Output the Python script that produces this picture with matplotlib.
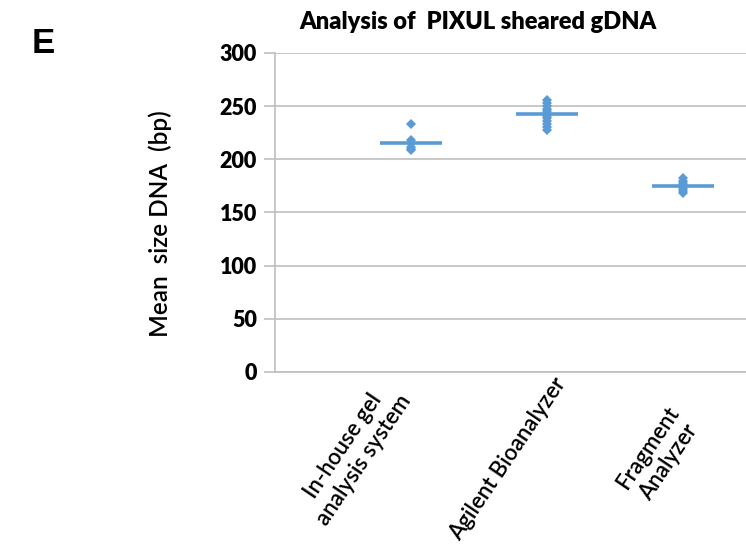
import matplotlib
matplotlib.use("Agg")
import matplotlib.pyplot as plt
import matplotlib.transforms as mtransforms

categories = ["In-house gel\nanalysis system", "Agilent Bioanalyzer", "Fragment\nAnalyzer"]
inhouse_values = [233, 218, 215, 212, 210, 209]
agilent_values = [256, 253, 250, 247, 245, 243, 241, 239, 236, 233, 230, 228]
fragment_values = [182, 180, 178, 176, 175, 174, 172, 170, 168]
group_means = [215, 243, 175]
y_ticks = [0, 50, 100, 150, 200, 250, 300]

title = "Analysis of  PIXUL sheared gDNA"
y_label = "Mean  size DNA  (bp)"
panel_letter = "E"

blue = "#5B9BD5"
grid_gray = "#BFBFBF"

fig = plt.figure(figsize=(7.46, 5.45), dpi=100)
ax = fig.add_axes([275/746, 173/545, 544/746, 319/545])

groups = [inhouse_values, agilent_values, fragment_values]
for i, vals in enumerate(groups):
    x = [i + 1] * len(vals)
    ax.plot(x, vals, linestyle="none", marker="D", markersize=5.4,
            color=blue, markeredgewidth=0, zorder=3)
    ax.hlines(group_means[i], i + 1 - 0.23, i + 1 + 0.23, color=blue,
              linewidth=2.6, zorder=4)

ax.set_xlim(0, 4)
ax.set_ylim(0, 300)
ax.set_yticks(y_ticks)
ax.set_yticklabels([str(v) for v in y_ticks], fontfamily="Lato",
                   fontweight="heavy", fontsize=15.5)
ax.grid(axis="y", color=grid_gray, linewidth=1.2)
ax.set_axisbelow(True)
for s in ["top", "right"]:
    ax.spines[s].set_visible(False)
ax.spines["left"].set_color(grid_gray)
ax.spines["bottom"].set_color(grid_gray)
ax.spines["left"].set_linewidth(1.2)
ax.spines["bottom"].set_linewidth(1.2)
ax.tick_params(axis="y", length=8, width=1.2, color=grid_gray, pad=5)
ax.tick_params(axis="x", length=0, pad=2)

ax.set_xticks([1, 2, 3])
labels = ax.set_xticklabels(categories, fontfamily="Lato", fontweight="semibold",
                            fontsize=16, rotation=56, ha="right", va="center",
                            rotation_mode="anchor", multialignment="center")
label_shifts = [(-15, -15), (14, -5), (2, -41)]
for lab, (dx, dy) in zip(labels, label_shifts):
    off = mtransforms.ScaledTranslation(dx/100, dy/100, fig.dpi_scale_trans)
    lab.set_transform(lab.get_transform() + off)

fig.text(160/746, 1 - 224/545, y_label, rotation=90, ha="center", va="center",
         fontfamily="Lato", fontweight="semibold", fontsize=17.5)
fig.text(478/746, 1 - 22/545, title, ha="center", va="center",
         fontfamily="Lato", fontweight="heavy", fontsize=17)
fig.text(43/746, 1 - 43/545, panel_letter, ha="center", va="center",
         fontfamily="Liberation Sans", fontweight="bold", fontsize=25)

fig.savefig("out.png", dpi=100)
